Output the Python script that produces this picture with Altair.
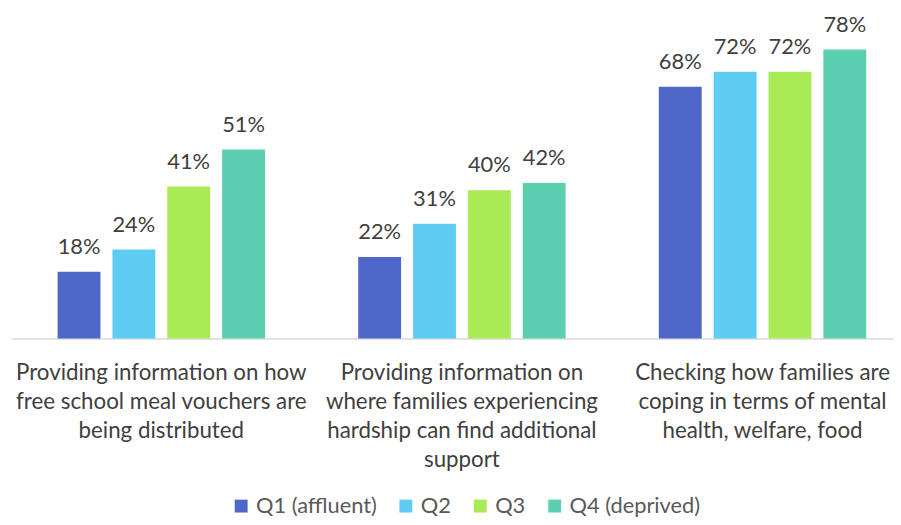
import altair as alt
import pandas as pd

categories = [
    "Providing information on how|free school meal vouchers are|being distributed",
    "Providing information on|where families experiencing|hardship can find additional|support",
    "Checking how families are|coping in terms of mental|health, welfare, food",
]
groups = ["Q1 (affluent)", "Q2", "Q3", "Q4 (deprived)"]
q1 = [18, 22, 68]
q2 = [24, 31, 72]
q3 = [41, 40, 72]
q4 = [51, 42, 78]
colors = ["#4F67C8", "#5FCDF3", "#A9EA55", "#5DCFB1"]

rows = []
for g, vals in zip(groups, [q1, q2, q3, q4]):
    for c, v in zip(categories, vals):
        rows.append({"category": c, "group": g, "value": v, "label": f"{v}%"})
df = pd.DataFrame(rows)

FONT = "Lato"

x = alt.X(
    "category:N",
    sort=categories,
    scale=alt.Scale(range=[3, 912], paddingInner=0.31, paddingOuter=0.155),
    axis=alt.Axis(
        title=None,
        labelExpr="split(datum.label, '|')",
        labelAngle=0,
        labelFontSize=22.5,
        labelLineHeight=29.3,
        labelPadding=23,
        labelLimit=500,
        labelColor="#404040",
        labelFont=FONT,
        domainColor="#D9D9D9",
        domainWidth=1.5,
        ticks=False,
        grid=False,
    ),
)
xo = alt.XOffset("group:N", sort=groups, scale=alt.Scale(paddingInner=0.218, paddingOuter=0))
y = alt.Y("value:Q", scale=alt.Scale(domain=[0, 88.7], nice=False, zero=True), axis=None)

base = alt.Chart(df)

bars = base.mark_bar().encode(
    x=x,
    xOffset=xo,
    y=y,
    color=alt.Color(
        "group:N",
        sort=groups,
        scale=alt.Scale(domain=groups, range=colors),
        legend=alt.Legend(
            orient="none",
            legendX=224,
            legendY=489,
            direction="horizontal",
            gridAlign="none",
            title=None,
            symbolType="square",
            symbolSize=169,
            symbolStrokeWidth=0,
            labelFontSize=22,
            labelFont=FONT,
            labelColor="#595959",
            columnPadding=18,
            labelOffset=4,
        ),
    ),
)

texts = base.mark_text(
    dy=-18, baseline="alphabetic", fontSize=22, color="#404040", font=FONT
).encode(x=x, xOffset=xo, y=y, text="label:N")

chart = (
    alt.layer(bars, texts)
    .properties(
        width=892,
        height=331,
        autosize=alt.AutoSizeParams(type="none"),
        padding={"left": 0, "top": 0, "right": 0, "bottom": 178},
    )
    .configure(font=FONT)
    .configure_view(stroke=None)
)

chart.save("out.html", embed_options={"renderer": "svg", "actions": False})
